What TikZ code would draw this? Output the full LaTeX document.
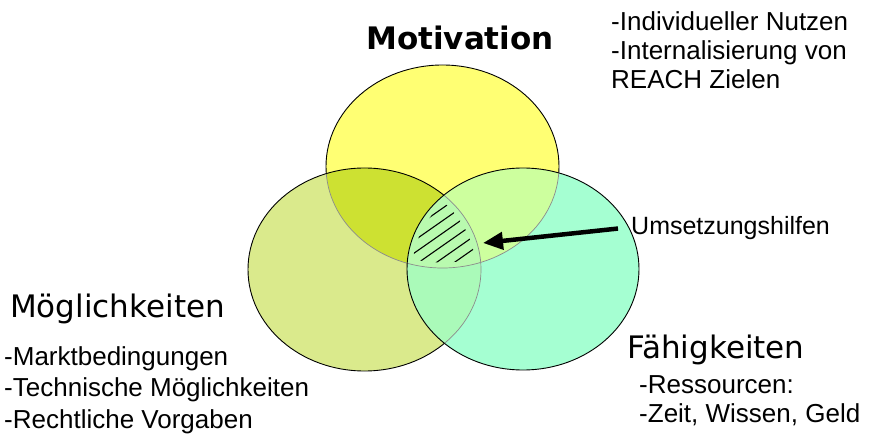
\documentclass[tikz,border=0pt]{standalone}
\usepackage{fontspec}
\setmainfont{Liberation Sans}
\newfontfamily\titelfont{DejaVu Sans}
\usetikzlibrary{arrows.meta}
\definecolor{gelbT}{RGB}{255,255,115}
\definecolor{gruenL}{RGB}{218,234,140}
\definecolor{tuerkisR}{RGB}{165,255,210}
\definecolor{olivTL}{RGB}{205,225,50}
\definecolor{hellTR}{RGB}{205,255,158}
\definecolor{hellLR}{RGB}{170,250,185}
\definecolor{hellTLR}{RGB}{185,250,175}
\def\oben{(442.5,166.5) ellipse [x radius=116.5pt, y radius=101.5pt]}
\def\links{(364.5,269.5) ellipse [x radius=116.5pt, y radius=101.5pt]}
\def\rechts{(523,269) ellipse [x radius=116pt, y radius=101pt]}
\begin{document}
\begin{tikzpicture}[x=1pt,y=-1pt,
    rand/.style={draw=black,line width=0.9pt},
    innen/.style={draw=black!45,line width=0.7pt},
    titel/.style={font=\titelfont\fontsize{31}{36}\selectfont,inner sep=0pt,anchor=base west},
    liste/.style={font=\fontsize{26}{29}\selectfont,inner sep=0pt,anchor=base west,align=left},
    schraffur/.style={line width=1.1pt},
    pfeil/.style={line width=4.5pt,-{Triangle[length=20pt,width=17pt]}}]
  \useasboundingbox (0,0) rectangle (870,438);
  % Motivation
  \fill[gelbT] \oben;
  \draw[rand] \oben;
  % Moeglichkeiten
  \fill[gruenL] \links;
  \begin{scope}
    \clip \oben;
    \fill[olivTL] \links;
  \end{scope}
  \begin{scope}
    \clip \links;
    \draw[innen] \oben;
  \end{scope}
  \draw[rand] \links;
  % Faehigkeiten
  \fill[tuerkisR] \rechts;
  \begin{scope}
    \clip \oben;
    \fill[hellTR] \rechts;
  \end{scope}
  \begin{scope}
    \clip \links;
    \fill[hellLR] \rechts;
  \end{scope}
  \begin{scope}
    \clip \oben;
    \clip \links;
    \fill[hellTLR] \rechts;
  \end{scope}
  \begin{scope}
    \clip \rechts;
    \draw[innen] \oben;
    \draw[innen] \links;
  \end{scope}
  \draw[rand] \rechts;
  % schraffur in der mitte
  \begin{scope}
    \clip (442.5,166.5) ellipse [x radius=111pt, y radius=96pt];
    \clip (364.5,269.5) ellipse [x radius=111pt, y radius=96pt];
    \clip (523,269) ellipse [x radius=110.5pt, y radius=95.5pt];
    \foreach \k in {0,...,6} {
      \draw[schraffur] (400,238+12.5*\k) -- ++(100,-70);
    }
  \end{scope}
  % texte (base = letzte zeile)
  \node[titel,anchor=base,font=\titelfont\bfseries\fontsize{31}{36}\selectfont] (motivation) at (460,50) {Motivation};
  \node[liste] (nutzen) at (611,89) {-Individueller Nutzen\\-Internalisierung von\\REACH Zielen};
  \node[titel] (moeglich) at (10,317) {Möglichkeiten};
  \node[liste,font=\fontsize{26}{31.5}\selectfont] (markt) at (4,428) {-Marktbedingungen\\-Technische Möglichkeiten\\-Rechtliche Vorgaben};
  \node[titel] (faehig) at (627,358) {Fähigkeiten};
  \node[liste] (ressourcen) at (639,422) {-Ressourcen:\\-Zeit, Wissen, Geld};
  \node[liste,font=\fontsize{25}{29}\selectfont,inner xsep=13pt] (hilfen) at (618,235) {Umsetzungshilfen};
  % pfeil
  \coordinate (mitte) at (483,243);
  \draw[pfeil] (hilfen.west) -- (mitte);
\end{tikzpicture}
\end{document}
